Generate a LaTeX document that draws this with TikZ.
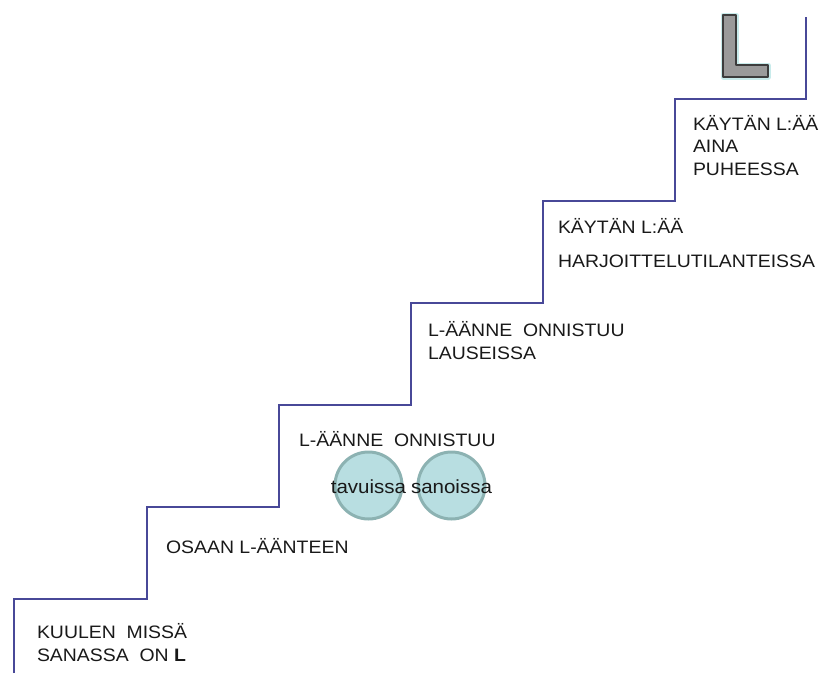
\documentclass[tikz,border=0pt]{standalone}
\usepackage{fontspec}
\setmainfont{Liberation Sans}[FakeStretch=1.08]
\definecolor{stair}{RGB}{72,72,152}
\definecolor{circfill}{RGB}{184,222,225}
\definecolor{circline}{RGB}{140,178,178}
\definecolor{lfill}{RGB}{154,154,154}
\definecolor{lline}{RGB}{60,60,60}
\definecolor{lglow}{RGB}{200,235,235}
\definecolor{txt}{RGB}{25,25,25}
\begin{document}
\begin{tikzpicture}[x=1pt,y=-1pt,
  lbl/.style={anchor=base west,inner sep=0pt,outer sep=0pt,align=left,text=txt,
    font=\fontsize{18}{22.5}\selectfont},
  bubble/.style={circle,minimum size=67pt,inner sep=0pt,fill=circfill,draw=circline,line width=3pt},
  btext/.style={anchor=base,inner sep=0pt,text=txt,font=\fontsize{19}{21}\selectfont}]
\useasboundingbox (0,0) rectangle (825,673);
% staircase
\draw[stair,line width=1.5pt,line join=miter]
  (14,673) -- (14,599) -- (147,599) -- (147,507) -- (279,507) -- (279,405)
  -- (411,405) -- (411,303) -- (543,303) -- (543,201) -- (675,201) -- (675,99)
  -- (806,99) -- (806,17);
% L symbol
\draw[lglow,line width=5pt,line join=round]
  (723,15) -- (736,15) -- (736,65) -- (768,65) -- (768,77) -- (723,77) -- cycle;
\draw[lline,fill=lfill,line width=1.5pt,line join=round]
  (723,15) -- (736,15) -- (736,65) -- (768,65) -- (768,77) -- (723,77) -- cycle;
% circles
\node[bubble] (c1) at (368.5,485.5) {};
\node[bubble] (c2) at (451.5,485.5) {};
\node[btext] (c1t) at (368.5,493) {tavuissa};
\node[btext] (c2t) at (451.5,493) {sanoissa};
% texts (base = baseline of last line)
\node[lbl] (t1) at (37,661) {KUULEN\hspace{0.3em} MISSÄ\\SANASSA\hspace{0.3em} ON \textbf{L}};
\node[lbl] (t2) at (166,553) {OSAAN L-ÄÄNTEEN};
\node[lbl] (t3) at (299,446) {L-ÄÄNNE\hspace{0.3em} ONNISTUU};
\node[lbl] (t4) at (428,359) {L-ÄÄNNE\hspace{0.3em} ONNISTUU\\LAUSEISSA};
\node[lbl] (t5) at (558,267) {KÄYTÄN L:ÄÄ\\[11.5pt]HARJOITTELUTILANTEISSA};
\node[lbl] (t6) at (693,175) {KÄYTÄN L:ÄÄ\\AINA\\PUHEESSA};
\end{tikzpicture}
\end{document}
